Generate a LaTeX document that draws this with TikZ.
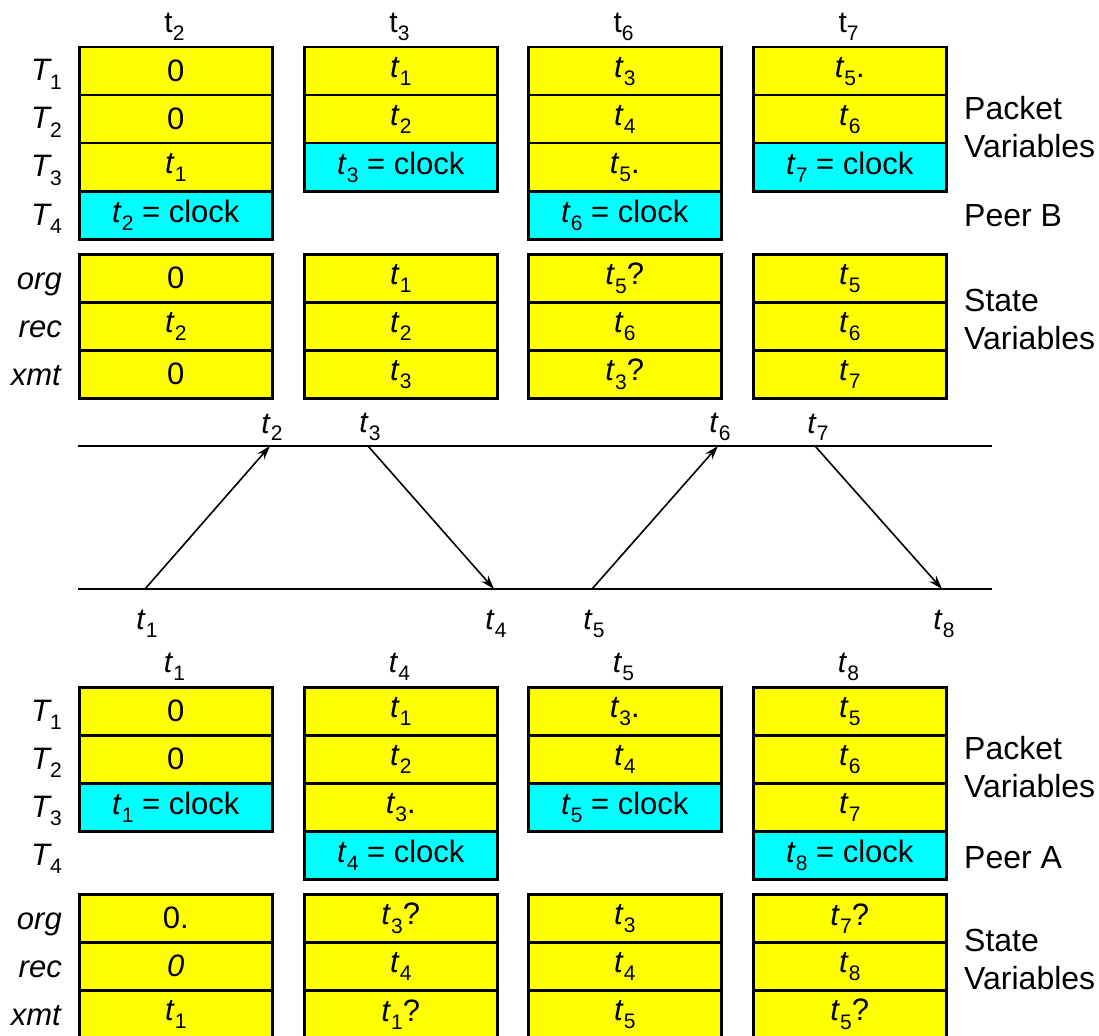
\documentclass[tikz,border=0pt]{standalone}
\usepackage{fontspec}
\setmainfont{Liberation Sans}
\usetikzlibrary{arrows.meta}
\definecolor{cellyellow}{RGB}{255,255,0}
\definecolor{cellcyan}{RGB}{0,255,255}
\newcommand\subd[1]{\raisebox{-0.26em}{\fontsize{21}{21}\selectfont #1}}
\newcommand\ti[1]{\textit{t}\subd{#1}}
\newcommand\tu[1]{t\subd{#1}}
\newcommand\Ti[1]{\textit{T}\kern-0.06em\subd{#1}}
\begin{document}
\begin{tikzpicture}[x=1pt,y=-1pt,
  cellbase/.style={draw=black, line width=2.5pt, minimum width=193pt, minimum height=48pt,
    inner sep=0pt, anchor=north west, font=\fontsize{31}{36}\selectfont},
  yel/.style={cellbase, fill=cellyellow},
  cyn/.style={cellbase, fill=cellcyan},
  lab/.style={font=\fontsize{30}{38}\selectfont, inner sep=0pt},
  leftlab/.style={font=\fontsize{31}{38}\selectfont, inner sep=0pt, anchor=base east},
  rightlab/.style={font=\fontsize{32}{38}\selectfont, inner sep=0pt, anchor=west, align=left},
  axis/.style={line width=2.4pt},
  msg/.style={line width=1.6pt, -{Stealth[length=14pt,width=9pt]}}
]
\useasboundingbox (0,0) rectangle (1099,1035);
\clip (0,0) rectangle (1099,1035);

% ===== Peer B =====
% headers
\node[lab] (hB1) at (174.5,27) {\tu{2}};
\node[lab] (hB2) at (399.5,27) {\tu{3}};
\node[lab] (hB3) at (623.5,27) {\tu{6}};
\node[lab] (hB4) at (848.5,27) {\tu{7}};
% row labels
\node[leftlab] (lBT1) at (62,81) {\Ti{1}};
\node[leftlab] (lBT2) at (62,129) {\Ti{2}};
\node[leftlab] (lBT3) at (62,177) {\Ti{3}};
\node[leftlab] (lBT4) at (62,225) {\Ti{4}};
\node[leftlab] (lBo) at (62,289) {\textit{org}};
\node[leftlab] (lBr) at (62,337) {\textit{rec}};
\node[leftlab] (lBx) at (62,385) {\textit{xmt}};
% packet cells
\node[yel] (Bp11) at (78,46) {0};
\node[yel] (Bp12) at (78,94) {0};
\node[yel] (Bp13) at (78,142) {\ti{1}};
\node[cyn] (Bp14) at (78,190) {\ti{2} = clock};
\node[yel] (Bp21) at (303,46) {\ti{1}};
\node[yel] (Bp22) at (303,94) {\ti{2}};
\node[cyn] (Bp23) at (303,142) {\ti{3} = clock};
\node[yel] (Bp31) at (527,46) {\ti{3}};
\node[yel] (Bp32) at (527,94) {\ti{4}};
\node[yel] (Bp33) at (527,142) {\ti{5}.};
\node[cyn] (Bp34) at (527,190) {\ti{6} = clock};
\node[yel] (Bp41) at (752,46) {\ti{5}.};
\node[yel] (Bp42) at (752,94) {\ti{6}};
\node[cyn] (Bp43) at (752,142) {\ti{7} = clock};
% state cells
\node[yel] (Bs11) at (78,253) {0};
\node[yel] (Bs12) at (78,301) {\ti{2}};
\node[yel] (Bs13) at (78,349) {0};
\node[yel] (Bs21) at (303,253) {\ti{1}};
\node[yel] (Bs22) at (303,301) {\ti{2}};
\node[yel] (Bs23) at (303,349) {\ti{3}};
\node[yel] (Bs31) at (527,253) {\ti{5}?};
\node[yel] (Bs32) at (527,301) {\ti{6}};
\node[yel] (Bs33) at (527,349) {\ti{3}?};
\node[yel] (Bs41) at (752,253) {\ti{5}};
\node[yel] (Bs42) at (752,301) {\ti{6}};
\node[yel] (Bs43) at (752,349) {\ti{7}};
% right labels
\node[rightlab] (rBp) at (964,127) {Packet\\Variables};
\node[rightlab] (rBpeer) at (964,216) {Peer B};
\node[rightlab] (rBs) at (964,319) {State\\Variables};

% ===== Timeline =====
\coordinate (BL) at (78,446);
\coordinate (BR) at (992,446);
\coordinate (AL) at (78,589);
\coordinate (AR) at (992,589);
\coordinate (B2) at (270,446);
\coordinate (B3) at (368,446);
\coordinate (B6) at (718,446);
\coordinate (B7) at (815,446);
\coordinate (A1) at (145,589);
\coordinate (A4) at (494,589);
\coordinate (A5) at (592,589);
\coordinate (A8) at (942,589);
\draw[axis] (BL) -- (BR);
\draw[axis] (AL) -- (AR);
\draw[msg] (A1) -- (B2);
\draw[msg] (B3) -- (A4);
\draw[msg] (A5) -- (B6);
\draw[msg] (B7) -- (A8);
\node[lab, anchor=south] (tl2) at (272,441) {\ti{2}};
\node[lab, anchor=south] (tl3) at (370,441) {\ti{3}};
\node[lab, anchor=south] (tl6) at (720,441) {\ti{6}};
\node[lab, anchor=south] (tl7) at (818,441) {\ti{7}};
\node[lab] (tl1) at (147,624) {\ti{1}};
\node[lab] (tl4) at (496,624) {\ti{4}};
\node[lab] (tl5) at (594,624) {\ti{5}};
\node[lab] (tl8) at (944,624) {\ti{8}};

% ===== Peer A =====
\node[lab] (hA1) at (174.5,667) {\ti{1}};
\node[lab] (hA2) at (399.5,667) {\ti{4}};
\node[lab] (hA3) at (623.5,667) {\ti{5}};
\node[lab] (hA4) at (848.5,667) {\ti{8}};
\node[leftlab] (lAT1) at (62,721) {\Ti{1}};
\node[leftlab] (lAT2) at (62,769) {\Ti{2}};
\node[leftlab] (lAT3) at (62,817) {\Ti{3}};
\node[leftlab] (lAT4) at (62,865) {\Ti{4}};
\node[leftlab] (lAo) at (62,929) {\textit{org}};
\node[leftlab] (lAr) at (62,977) {\textit{rec}};
\node[leftlab] (lAx) at (62,1025) {\textit{xmt}};
% packet cells
\node[yel] (Ap11) at (78,686) {0};
\node[yel] (Ap12) at (78,734) {0};
\node[cyn] (Ap13) at (78,782) {\ti{1} = clock};
\node[yel] (Ap21) at (303,686) {\ti{1}};
\node[yel] (Ap22) at (303,734) {\ti{2}};
\node[yel] (Ap23) at (303,782) {\ti{3}.};
\node[cyn] (Ap24) at (303,830) {\ti{4} = clock};
\node[yel] (Ap31) at (527,686) {\ti{3}.};
\node[yel] (Ap32) at (527,734) {\ti{4}};
\node[cyn] (Ap33) at (527,782) {\ti{5} = clock};
\node[yel] (Ap41) at (752,686) {\ti{5}};
\node[yel] (Ap42) at (752,734) {\ti{6}};
\node[yel] (Ap43) at (752,782) {\ti{7}};
\node[cyn] (Ap44) at (752,830) {\ti{8} = clock};
% state cells
\node[yel] (As11) at (78,893) {0.};
\node[yel] (As12) at (78,941) {\textit{0}};
\node[yel] (As13) at (78,989) {\ti{1}};
\node[yel] (As21) at (303,893) {\ti{3}?};
\node[yel] (As22) at (303,941) {\ti{4}};
\node[yel] (As23) at (303,989) {\ti{1}?};
\node[yel] (As31) at (527,893) {\ti{3}};
\node[yel] (As32) at (527,941) {\ti{4}};
\node[yel] (As33) at (527,989) {\ti{5}};
\node[yel] (As41) at (752,893) {\ti{7}?};
\node[yel] (As42) at (752,941) {\ti{8}};
\node[yel] (As43) at (752,989) {\ti{5}?};
% right labels
\node[rightlab] (rAp) at (964,767) {Packet\\Variables};
\node[rightlab] (rApeer) at (964,858) {Peer A};
\node[rightlab] (rAs) at (964,959) {State\\Variables};
\end{tikzpicture}
\end{document}
